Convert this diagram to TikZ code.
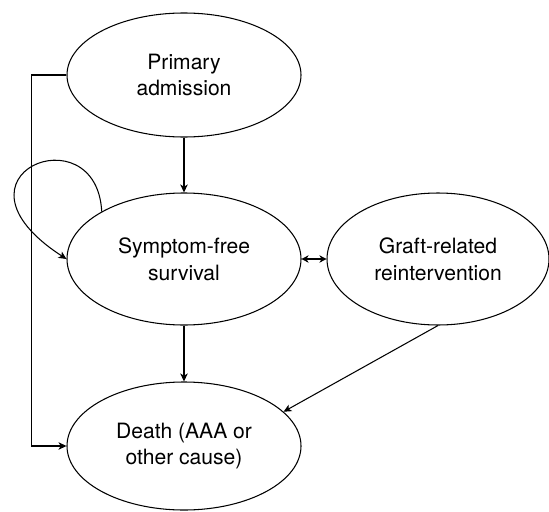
\documentclass[tikz,border=0pt]{standalone}
\usepackage{fontspec}
\setmainfont{TeX Gyre Heros}
\usetikzlibrary{shapes.geometric,arrows.meta}
\begin{document}
\begin{tikzpicture}[
    stato/.style={draw, ellipse, line width=0.6pt, inner sep=0pt, align=center,
        font=\fontsize{12}{15.3}\selectfont},
    freccia/.style={line width=0.6pt, -{Stealth[length=4.5pt,width=4.2pt,inset=1.2pt]}},
    doppia/.style={line width=0.6pt, {Stealth[length=4pt,width=4.2pt,inset=1.2pt]}-{Stealth[length=4pt,width=4.2pt,inset=1.2pt]}}
]
    \fill[white] (0,0) rectangle (10.98,-10.22);
    \useasboundingbox (0,0) rectangle (10.98,-10.22);

    % Stati
    \node[stato, minimum width=4.68cm, minimum height=2.48cm] (prim) at (3.68,-1.5) {Primary\\admission};
    \node[stato, minimum width=4.68cm, minimum height=2.64cm] (sym) at (3.68,-5.18) {Symptom-free\\survival};
    \node[stato, minimum width=4.44cm, minimum height=2.64cm] (graft) at (8.76,-5.18) {Graft-related\\reintervention};
    \node[stato, minimum width=4.68cm, minimum height=2.56cm] (death) at (3.68,-8.92) {Death (AAA or\\other cause)};

    % Transizioni
    \draw[freccia] (prim.south) -- (sym.north);
    \draw[freccia] (sym.south) -- (death.north);
    \draw[freccia] (graft.south) -- (death.19);
    \draw[doppia] (sym.east) -- (graft.west);
    \draw[freccia] (prim.west) -- ++(-0.7,0) |- (death.west);

    % Permanenza nello stato
    \draw[freccia] (sym.150) to[out=93, in=147, out distance=2cm, in distance=3.1cm] (sym.west);
\end{tikzpicture}
\end{document}
